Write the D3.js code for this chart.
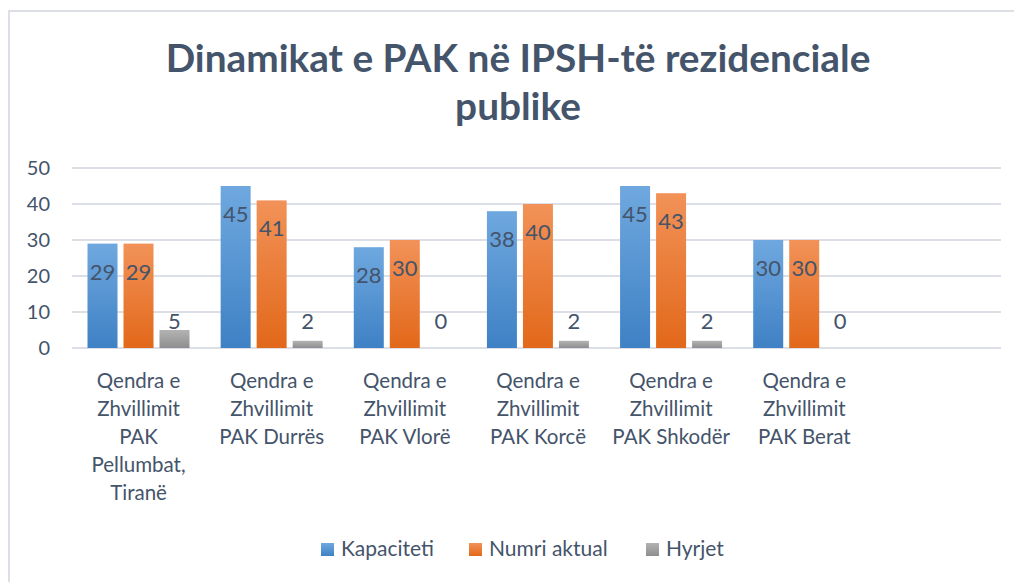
<!DOCTYPE html>
<html>
<head>
<meta charset="utf-8">
<script src="https://cdn.jsdelivr.net/npm/d3@7"></script>
<style>
  body { margin: 0; background: #fff; }
  text { font-family: Lato, 'Open Sans', sans-serif; fill: #44546A; }
</style>
</head>
<body>
<div id="chart"></div>
<script>
const title = ['Dinamikat e PAK në IPSH-të rezidenciale', 'publike']
// last slot is empty in the original chart
const categories = [
  'Qendra e Zhvillimit PAK Pellumbat, Tiranë',
  'Qendra e Zhvillimit PAK Durrës',
  'Qendra e Zhvillimit PAK Vlorë',
  'Qendra e Zhvillimit PAK Korcë',
  'Qendra e Zhvillimit PAK Shkodër',
  'Qendra e Zhvillimit PAK Berat',
  ''
]
const seriesNames = ['Kapaciteti', 'Numri aktual', 'Hyrjet']
const kapaciteti = [29, 45, 28, 38, 45, 30]
const numriAktual = [29, 41, 30, 40, 43, 30]
const hyrjet = [5, 2, 0, 2, 2, 0]
const yTicks = [0, 10, 20, 30, 40, 50]

const colors = [
  ['#6FA8DF', '#3F81C5'],
  ['#F29258', '#E2681A'],
  ['#B3B3B3', '#8E8E8E']
]

const width = 1014
const height = 582

const svg = d3
  .select('#chart')
  .append('svg')
  .attr('width', width)
  .attr('height', height)

const defs = svg.append('defs')
colors.forEach((c, i) => {
  const g = defs
    .append('linearGradient')
    .attr('id', 'grad' + i)
    .attr('x1', 0).attr('y1', 0).attr('x2', 0).attr('y2', 1)
  g.append('stop').attr('offset', '0%').attr('stop-color', c[0])
  g.append('stop').attr('offset', '100%').attr('stop-color', c[1])
})

// chart frame
svg
  .append('rect')
  .attr('x', 9)
  .attr('y', 11)
  .attr('width', 1200)
  .attr('height', 800)
  .attr('fill', 'none')
  .attr('stroke', '#DCE0E6')
  .attr('stroke-width', 2)

// title
const titleText = svg
  .append('text')
  .attr('text-anchor', 'middle')
  .style('font-weight', 'bold')
  .style('font-size', '36px')
titleText
  .selectAll('tspan')
  .data(title)
  .enter()
  .append('tspan')
  .attr('x', 518)
  .attr('y', (d, i) => 72 + i * 48)
  .text(d => d)
// fit first line to the width seen in the picture
const firstLen = titleText.select('tspan').node().getComputedTextLength()
titleText.style('font-size', (36 * 705) / firstLen + 'px')

const xScale = d3
  .scaleBand()
  .domain(d3.range(categories.length))
  .range([72, 1004])

const xInner = d3
  .scaleBand()
  .domain(seriesNames)
  .range([15.5, 117.5])
  .paddingInner(1 / 6)

const yScale = d3.scaleLinear().domain([0, 50]).range([348, 168])

// gridlines
svg
  .selectAll('.grid')
  .data(yTicks)
  .enter()
  .append('line')
  .attr('x1', 72)
  .attr('x2', 1001)
  .attr('y1', d => yScale(d))
  .attr('y2', d => yScale(d))
  .attr('stroke', '#DCE0E6')
  .attr('stroke-width', 2)

// y labels
svg
  .selectAll('.ylabel')
  .data(yTicks)
  .enter()
  .append('text')
  .attr('x', 50)
  .attr('y', d => yScale(d))
  .attr('dy', '0.35em')
  .attr('text-anchor', 'end')
  .style('font-size', '20px')
  .text(d => d)

const series = [kapaciteti, numriAktual, hyrjet]
const bars = []
series.forEach((values, s) => {
  values.forEach((v, i) => bars.push({ s: s, name: seriesNames[s], i: i, value: v }))
})

svg
  .selectAll('.bar')
  .data(bars)
  .enter()
  .append('rect')
  .attr('x', d => xScale(d.i) + xInner(d.name))
  .attr('width', xInner.bandwidth())
  .attr('y', d => yScale(d.value))
  .attr('height', d => yScale(0) - yScale(d.value))
  .attr('fill', d => `url(#grad${d.s})`)

// data labels: inside end for the first two series, above for the last
svg
  .selectAll('.dlabel')
  .data(bars)
  .enter()
  .append('text')
  .attr('x', d => xScale(d.i) + xInner(d.name) + xInner.bandwidth() / 2)
  .attr('y', d => (d.s < 2 ? yScale(d.value) + 36 : Math.min(yScale(d.value), yScale(5)) - 1))
  .attr('text-anchor', 'middle')
  .style('font-size', '22px')
  .text(d => d.value)

// category labels, wrapped
const catLabels = svg
  .selectAll('.xlabel')
  .data(categories)
  .enter()
  .append('text')
  .attr('text-anchor', 'middle')
  .style('font-size', '20.5px')
  .attr('transform', (d, i) => `translate(${xScale(i) + xScale.bandwidth() / 2}, 388)`)

catLabels.each(function(d) {
  const el = d3.select(this)
  const words = d.split(' ').filter(w => w)
  const lines = []
  let line = []
  const probe = el.append('tspan')
  words.forEach(w => {
    const test = line.concat([w]).join(' ')
    probe.text(test)
    if (line.length && probe.node().getComputedTextLength() > 122) {
      lines.push(line.join(' '))
      line = [w]
    } else {
      line.push(w)
    }
  })
  if (line.length) lines.push(line.join(' '))
  probe.remove()
  el.selectAll('tspan')
    .data(lines)
    .enter()
    .append('tspan')
    .attr('x', 0)
    .attr('y', (l, k) => k * 28)
    .text(l => l)
})

// legend
const legendX = [321, 469, 646]
const legend = svg
  .selectAll('.legend')
  .data(seriesNames)
  .enter()
  .append('g')
  .attr('transform', (d, i) => `translate(${legendX[i]}, 549)`)
legend
  .append('rect')
  .attr('x', 0)
  .attr('y', -6)
  .attr('width', 13)
  .attr('height', 13)
  .attr('fill', (d, i) => `url(#grad${i})`)
legend
  .append('text')
  .attr('x', 20)
  .attr('y', 0)
  .attr('dy', '0.35em')
  .style('font-size', '21px')
  .text(d => d)
</script>
</body>
</html>
